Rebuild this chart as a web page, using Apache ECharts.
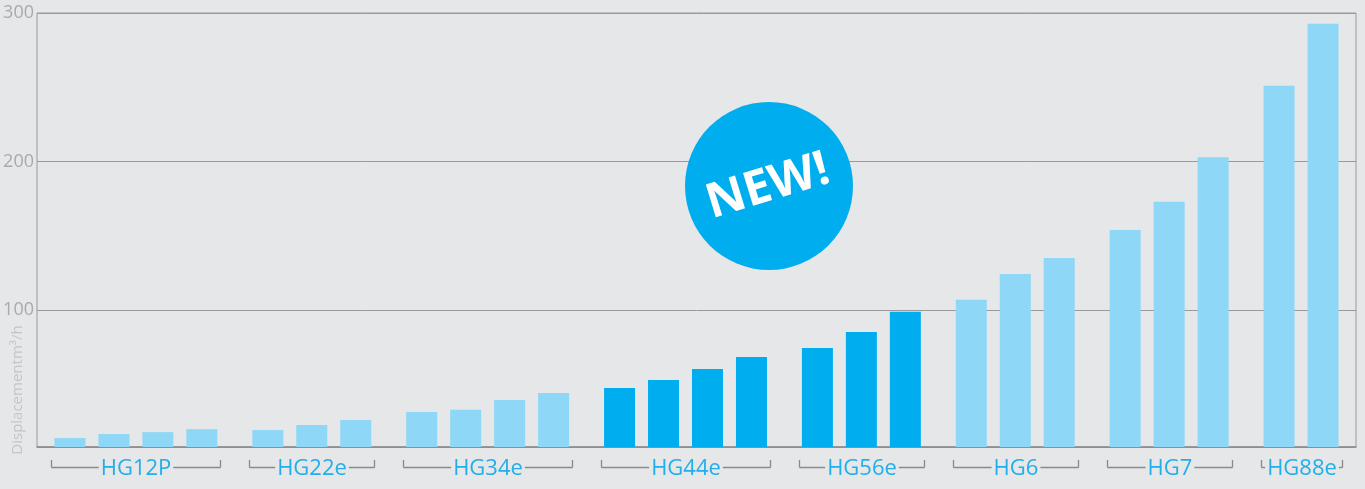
<!DOCTYPE html>
<html>
<head>
<meta charset="utf-8">
<script src="https://cdn.jsdelivr.net/npm/echarts@6/dist/echarts.min.js"></script>
<style>
html,body{margin:0;padding:0;background:#e6e7e8;}
#chart{width:1365px;height:489px;}
</style>
</head>
<body>
<div id="chart"></div>
<script>
// ---- data ----
const groupNames = ['HG12P', 'HG22e', 'HG34e', 'HG44e', 'HG56e', 'HG6', 'HG7', 'HG88e'];
const newGroups = ['HG44e', 'HG56e'];
const valuesHG12P = [14, 16.7, 18, 20];
const valuesHG22e = [19.4, 22.8, 26.2];
const valuesHG34e = [31.6, 33, 39.6, 44.3];
const valuesHG44e = [47.7, 53.1, 60.5, 68.6];
const valuesHG56e = [74.6, 85.4, 99];
const valuesHG6 = [107, 124.4, 135.2];
const valuesHG7 = [154, 173, 203];
const valuesHG88e = [251, 292.7];
const groupValues = [valuesHG12P, valuesHG22e, valuesHG34e, valuesHG44e, valuesHG56e, valuesHG6, valuesHG7, valuesHG88e];
const yTicks = [100, 200, 300];
const yAxisTitle = 'Displacementm³/h';
const badgeText = 'NEW!';

// ---- build categories (half-slot bands) ----
const Y_MIN = 8, Y_MAX = 300;
const LIGHT = '#8ed7f6', DARK = '#00aeef';
const cats = [], barData = [], brackets = [];
let gap = 0;
function spacer() { cats.push('_gap' + (gap++)); barData.push('-'); }
spacer();
groupNames.forEach((g, gi) => {
  const vals = groupValues[gi];
  const start = cats.length;
  vals.forEach((v, i) => {
    cats.push(g + '-' + (i + 1));
    barData.push({ value: v, itemStyle: { color: newGroups.includes(g) ? DARK : LIGHT } });
    if (i < vals.length - 1) spacer();
  });
  const end = cats.length - 1;
  brackets.push({ name: g, value: [start, end, Y_MIN] });
  if (gi < groupNames.length - 1) { spacer(); spacer(); }
});
spacer();

const chart = echarts.init(document.getElementById('chart'));
const BAR_W = 31;
chart.setOption({
  backgroundColor: '#e6e7e8',
  animation: false,
  grid: { left: 37, right: 9, top: 13, bottom: 42, show: true, borderColor: '#9a9a9a', borderWidth: 1 },
  xAxis: {
    type: 'category', data: cats,
    axisLine: { show: true, lineStyle: { color: '#8c8c8c', width: 1.5 } },
    axisTick: { show: false }, axisLabel: { show: false }, splitLine: { show: false }
  },
  yAxis: {
    type: 'value', min: Y_MIN, max: Y_MAX, splitNumber: 3,
    axisLine: { show: false }, axisTick: { show: false },
    axisLabel: {
      color: '#aaaaaa', fontSize: 18, fontFamily: 'Open Sans', margin: 3,
      formatter: v => yTicks.includes(v) ? String(v) : ''
    },
    splitLine: { show: true, lineStyle: { color: '#9a9a9a', width: 1 } }
  },
  graphic: [
    {
      type: 'text', x: 18, y: 390, rotation: Math.PI / 2,
      style: { text: yAxisTitle, fill: '#c4c5c7', font: '15px "Open Sans"', align: 'center', verticalAlign: 'middle' }
    },
    { type: 'circle', shape: { cx: 769, cy: 186, r: 84 }, style: { fill: DARK }, z: 100 },
    {
      type: 'text', x: 768, y: 187, rotation: 17 * Math.PI / 180, z: 101,
      style: { text: badgeText, fill: '#ffffff', font: 'bold 48px "Open Sans"', align: 'center', verticalAlign: 'middle' }
    }
  ],
  series: [
    { type: 'bar', data: barData, barWidth: BAR_W, z: 3 },
    {
      type: 'custom', data: brackets, clip: false, silent: true, z: 4,
      encode: { x: [0, 1], y: 2 },
      renderItem: function (params, api) {
        const p0 = api.coord([api.value(0), Y_MIN]);
        const p1 = api.coord([api.value(1), Y_MIN]);
        const x0 = Math.round(p0[0] - BAR_W / 2 - 3) + 0.5;
        const x1 = Math.round(p1[0] + BAR_W / 2 + 3) + 0.5;
        const yb = Math.round(p0[1]);
        const yt = yb + 13, yh = yb + 20 + 0.5;
        const lineStyle = { stroke: '#8a8a8a', lineWidth: 1.3, fill: null };
        const name = brackets[params.dataIndex].name;
        return {
          type: 'group',
          children: [
            { type: 'line', shape: { x1: x0, y1: yh, x2: x1, y2: yh }, style: lineStyle },
            {
              type: 'text', x: (x0 + x1) / 2, y: yb + 22,
              style: {
                text: name, fill: '#22aeea', font: '22px "Open Sans"', align: 'center', verticalAlign: 'middle',
                backgroundColor: '#e6e7e8', padding: [0, 2]
              }
            },
            { type: 'line', shape: { x1: x0, y1: yt, x2: x0, y2: yh }, style: lineStyle },
            { type: 'line', shape: { x1: x1, y1: yt, x2: x1, y2: yh }, style: lineStyle }
          ]
        };
      }
    }
  ]
});
</script>
</body>
</html>
